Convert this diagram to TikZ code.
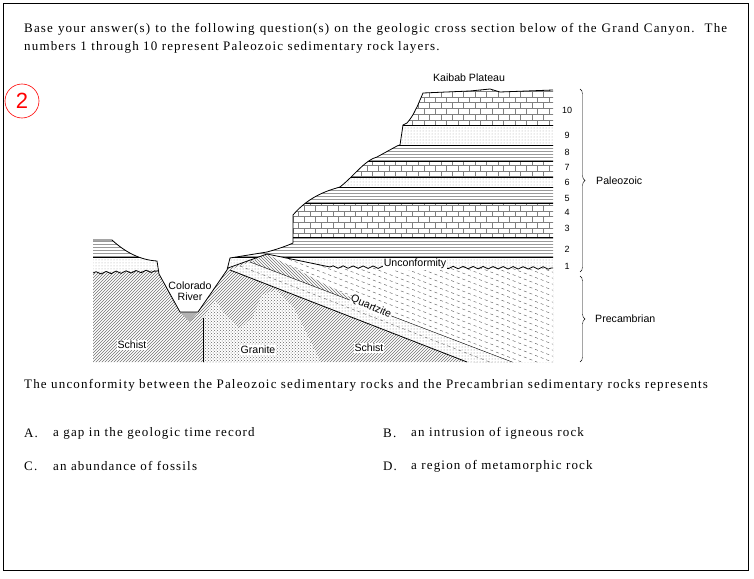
\documentclass[tikz,border=0pt]{standalone}
\usepackage{fontspec}
\setmainfont{Liberation Serif}
\setsansfont{Liberation Sans}
\newfontfamily\qfont[LetterSpace=9]{Liberation Serif}
\usetikzlibrary{patterns,decorations.pathreplacing,decorations.pathmorphing}
\begin{document}
\begin{tikzpicture}[x=1pt,y=-1pt,
 lab/.style={font=\sffamily\fontsize{10.6}{11.5}\selectfont,inner sep=1pt},
 labw/.style={lab,fill=white},
 num/.style={font=\sffamily\fontsize{9}{9}\selectfont,inner sep=0pt},
 qtext/.style={font=\qfont\fontsize{13}{18}\selectfont,inner sep=0pt,anchor=west},
 bracestyle/.style={decorate,decoration={brace,amplitude=5pt},thin}]
\useasboundingbox (0,0) rectangle (754,578);
\draw[thin] (3,3) rectangle (748,570);
\node[qtext,anchor=north west,text width=703pt,align=justify] (q) at (24,23) {Base your answer(s) to the following question(s) on the geologic cross section below of the Grand Canyon.\ \ The numbers 1 through 10 represent Paleozoic sedimentary rock layers.};
\node[draw=red,semithick,circle,minimum size=34pt,inner sep=0pt,text=red,font=\sffamily\fontsize{22}{22}\selectfont] (two) at (22,101) {2};
% ground region
\begin{scope}
\clip (93,240) -- (112,240) .. controls (125,252) and (140,260) .. (157,261) -- (159,274) -- (180,312) -- (198,312) -- (227,270) -- (230,258) -- (267,252) .. controls (285,247) and (293,243) .. (293,243) -- (293,215) .. controls (310,195) and (330,190) .. (340,187) .. controls (355,175) and (365,160) .. (377,157) -- (397,146) -- (400,145) -- (403,125) -- (407,123) .. controls (414,115) and (416,108) .. (417,107) -- (423,93) -- (470,91) -- (490,89) -- (500,92) -- (553,90) -- (553,362) -- (93,362) -- cycle;
\fill[white] (90,85) rectangle (560,365);
\path[pattern=bricks,pattern color=gray] (90,85) rectangle (560,125);
\path[pattern=dots,pattern color=gray!70] (90,125) rectangle (560,145);
\path[pattern=horizontal lines,pattern color=gray!80] (90,145) rectangle (560,161);
\path[pattern=bricks,pattern color=gray] (90,161) rectangle (560,177);
\path[pattern=dots,pattern color=gray!70] (90,177) rectangle (560,187);
\path[pattern=horizontal lines,pattern color=gray!80] (90,187) rectangle (560,203);
\path[pattern=bricks,pattern color=gray] (90,203) rectangle (560,237);
\path[pattern=horizontal lines,pattern color=gray!80] (90,237) rectangle (560,257);
\path[pattern=dots,pattern color=gray!70] (90,257) rectangle (560,272);
\foreach \y in {125,145,161,177,187,203,237,257} \draw[thin] (90,\y) -- (560,\y);
% precambrian
\path[fill=white] (90,273) -- (160,270) -- (230,268) -- (267,254) -- (330,267) -- (560,268) -- (560,365) -- (90,365) -- cycle;
\path[pattern=north east lines,pattern color=gray!90!black] (90,273) -- (160,270) -- (230,268) -- (267,254) -- (330,267) -- (560,268) -- (560,365) -- (90,365) -- cycle;
% tilted strata wedge
\begin{scope}
\clip (267,254) -- (330,267) -- (560,268) -- (560,365) -- (480,365) -- cycle;
\fill[white] (250,250) rectangle (560,365);
\foreach \k in {-120,-114,...,150} \draw[dashed,thin,gray!70!black] (250,250+\k) -- (560,250+\k+121);
\end{scope}
\path[fill=white] (250,262) -- (267,254) -- (480,365) -- (520,365) -- cycle;
\path[pattern=north west lines,pattern color=gray!90!black] (250,262) -- (267,254) -- (480,365) -- (520,365) -- cycle;
% quartzite band
\path[fill=white] (230,270) -- (250,262) -- (520,365) -- (467,362) -- cycle;
\path[pattern=dots,pattern color=gray] (230,270) -- (250,262) -- (520,365) -- (467,362) -- cycle;
\draw[thin,dashed,gray!70!black] (240,266) -- (495,364);
\draw[thin] (250,262) -- (520,365);
% granite
\path[fill=white] (203,365) -- (203,318) -- (215,300) -- (228,318) -- (240,328) -- (252,318) -- (262,295) -- (275,290) -- (292,305) -- (300,320) -- (322,365) -- cycle;
\path[pattern=crosshatch dots,pattern color=gray!80!black] (203,365) -- (203,318) -- (215,300) -- (228,318) -- (240,328) -- (252,318) -- (262,295) -- (275,290) -- (292,305) -- (300,320) -- (322,365) -- cycle;
\draw[thin] (203,365) -- (203,318);
\fill[gray!60] (180,312) -- (198,312) -- (190,322) -- cycle;
\end{scope}
% fault line
\draw[thick] (230,270) -- (467,362);
% unconformity
\draw[thick,decorate,decoration={snake,amplitude=1.2pt,segment length=10pt}] (93,273) -- (159,271);
\draw[thick,decorate,decoration={snake,amplitude=1.2pt,segment length=10pt}] (330,267) -- (553,268);
\draw[thick] (228,268) -- (267,254) -- (330,267);
% surface outline
\draw[thick] (93,240) -- (112,240) .. controls (125,252) and (140,260) .. (157,261) -- (159,274) -- (180,312) -- (198,312) -- (227,270) -- (230,258) -- (267,252) .. controls (285,247) and (293,243) .. (293,243) -- (293,215) .. controls (310,195) and (330,190) .. (340,187) .. controls (355,175) and (365,160) .. (377,157) -- (397,146) -- (400,145) -- (403,125) -- (407,123) .. controls (414,115) and (416,108) .. (417,107) -- (423,93) -- (470,91) -- (490,89) -- (500,92) -- (553,90);
% labels
\node[lab] (kp) at (469,78) {Kaibab Plateau};
\node[lab,align=center] (cr) at (190,291) {Colorado\\River};
\node[labw] (s1) at (132,345) {Schist};
\node[labw] (gr) at (258,350) {Granite};
\node[labw] (s2) at (369,348) {Schist};
\node[labw,inner sep=0.5pt,rotate=-24] (qz) at (371,307) {Quartzite};
\node[labw] (un) at (415,264) {Unconformity};
\foreach \n/\y in {10/110,9/135,8/152,7/167,6/182,5/198,4/212,3/228,2/249,1/266}
 \node[num] (n\n) at (567,\y) {\n};
\draw[bracestyle] (580,89) -- (580,272);
\draw[bracestyle] (580,276) -- (580,362);
\node[lab,anchor=west] (pz) at (595,181) {Paleozoic};
\node[lab,anchor=west] (pc) at (594,319) {Precambrian};
% question
\node[qtext] (qq) at (24,385) {The unconformity between the Paleozoic sedimentary rocks and the Precambrian sedimentary rocks represents};
\node[qtext] (a) at (24,433) {A.};
\node[qtext] (at) at (53,433) {a gap in the geologic time record};
\node[qtext] (b) at (383,433) {B.};
\node[qtext] (bt) at (411,433) {an intrusion of igneous rock};
\node[qtext] (c) at (24,466) {C.};
\node[qtext] (ct) at (53,466) {an abundance of fossils};
\node[qtext] (d) at (383,466) {D.};
\node[qtext] (dt) at (411,466) {a region of metamorphic rock};
\end{tikzpicture}
\end{document}
